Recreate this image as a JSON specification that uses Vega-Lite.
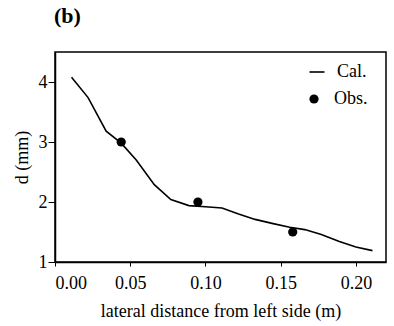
{
  "$schema": "https://vega.github.io/schema/vega-lite/v6.json",
  "width": 331,
  "height": 210,
  "autosize": "none",
  "padding": {"left": 55, "top": 52, "right": 8, "bottom": 64},
  "background": "white",
  "title": {
    "text": "(b)",
    "anchor": "start",
    "frame": "group",
    "dx": -1,
    "offset": 24,
    "font": "Liberation Serif",
    "fontSize": 22,
    "fontWeight": "bold",
    "color": "black"
  },
  "config": {
    "view": {"stroke": "black", "strokeWidth": 1.5},
    "axis": {
      "grid": false,
      "domainColor": "black",
      "domainWidth": 1.5,
      "tickColor": "black",
      "labelFont": "Liberation Serif",
      "labelFontSize": 18,
      "labelColor": "black",
      "titleFont": "Liberation Serif",
      "titleFontSize": 18,
      "titleFontWeight": "normal",
      "titleColor": "black"
    },
    "legend": {
      "labelFont": "Liberation Serif",
      "labelFontSize": 18,
      "labelColor": "black",
      "title": null,
      "orient": "none"
    }
  },
  "datasets": {
    "cal": [
      {"x": 0.011, "d": 4.08},
      {"x": 0.022, "d": 3.74},
      {"x": 0.034, "d": 3.18},
      {"x": 0.044, "d": 2.98},
      {"x": 0.054, "d": 2.70},
      {"x": 0.066, "d": 2.29},
      {"x": 0.077, "d": 2.04},
      {"x": 0.089, "d": 1.94},
      {"x": 0.100, "d": 1.92},
      {"x": 0.111, "d": 1.90},
      {"x": 0.122, "d": 1.80},
      {"x": 0.133, "d": 1.71},
      {"x": 0.145, "d": 1.64},
      {"x": 0.156, "d": 1.58},
      {"x": 0.166, "d": 1.54},
      {"x": 0.177, "d": 1.46},
      {"x": 0.189, "d": 1.34},
      {"x": 0.200, "d": 1.25},
      {"x": 0.211, "d": 1.19}
    ],
    "obs": [
      {"x": 0.044, "d": 3.0},
      {"x": 0.095, "d": 2.0},
      {"x": 0.158, "d": 1.5}
    ]
  },
  "layer": [
    {
      "data": {"name": "cal"},
      "mark": {"type": "line", "strokeWidth": 1.6},
      "encoding": {
        "x": {
          "field": "x", "type": "quantitative",
          "scale": {"domain": [0, 0.22], "nice": false, "zero": false},
          "axis": {
            "values": [0, 0.05, 0.1, 0.15, 0.2],
            "format": ".2f",
            "tickSize": 4,
            "labelPadding": 8,
            "titlePadding": 10,
            "title": "lateral distance from left side (m)"
          }
        },
        "y": {
          "field": "d", "type": "quantitative",
          "scale": {"domain": [1, 4.5], "nice": false, "zero": false},
          "axis": {
            "values": [1, 2, 3, 4],
            "format": "d",
            "tickSize": 7,
            "labelPadding": 1,
            "titlePadding": 7,
            "title": "d (mm)"
          }
        },
        "stroke": {
          "datum": "Cal.", "type": "nominal",
          "scale": {"domain": ["Cal."], "range": ["black"]},
          "legend": {
            "legendX": 253,
            "legendY": 11,
            "symbolType": "stroke",
            "symbolSize": 225,
            "symbolStrokeWidth": 1.6,
            "labelOffset": 11
          }
        }
      }
    },
    {
      "data": {"name": "obs"},
      "mark": {"type": "point", "filled": true, "opacity": 1, "size": 85},
      "encoding": {
        "x": {"field": "x", "type": "quantitative"},
        "y": {"field": "d", "type": "quantitative"},
        "color": {
          "datum": "Obs.", "type": "nominal",
          "scale": {"domain": ["Obs."], "range": ["black"]},
          "legend": {
            "legendX": 250,
            "legendY": 38,
            "symbolType": "circle",
            "symbolSize": 85,
            "symbolOpacity": 1,
            "labelOffset": 11
          }
        }
      }
    }
  ]
}
